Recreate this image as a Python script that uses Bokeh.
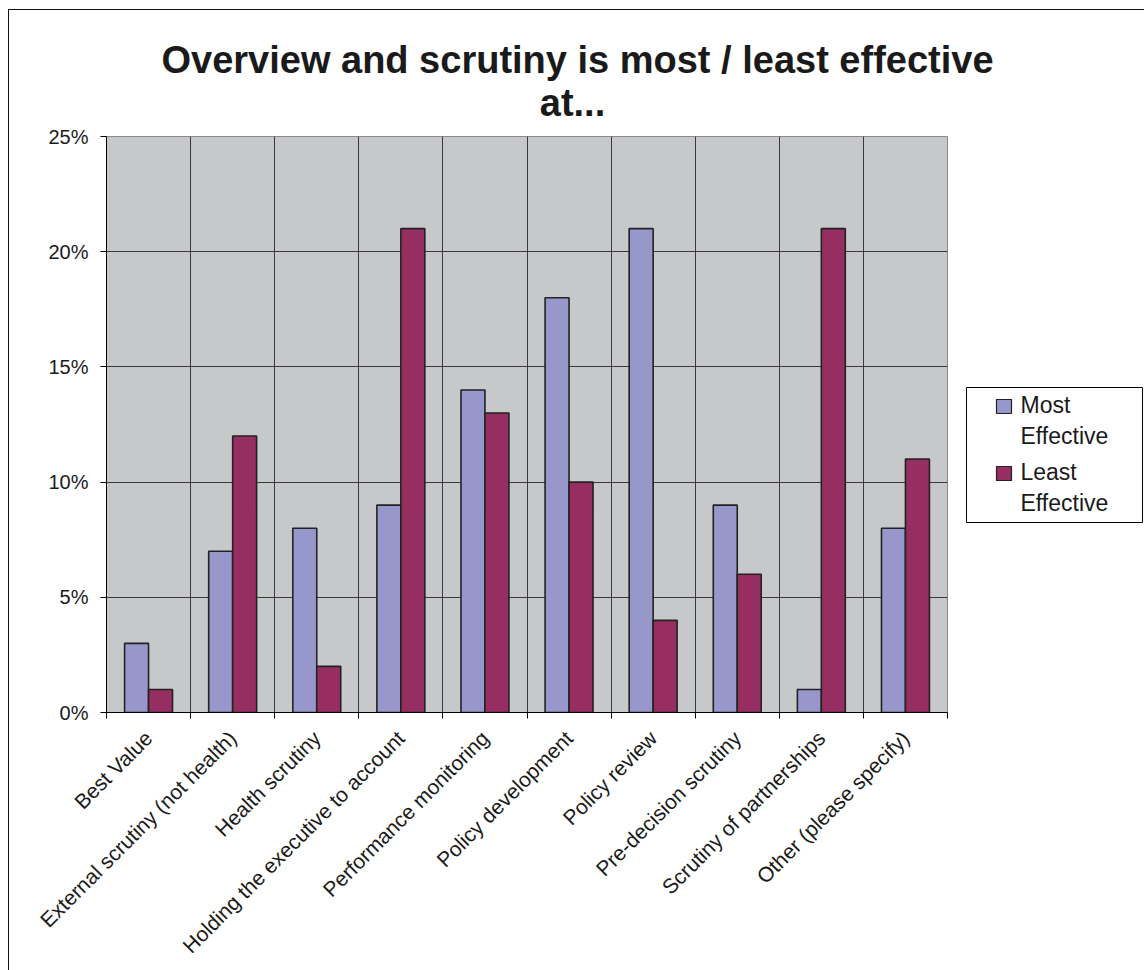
from math import pi

from bokeh.core.properties import value
from bokeh.embed import file_html
from bokeh.layouts import column, row
from bokeh.models import ColumnDataSource, FixedTicker, PrintfTickFormatter, Range1d
from bokeh.plotting import figure
from bokeh.resources import INLINE
from bokeh.transform import dodge

# ---- data -------------------------------------------------------------
categories = [
    "Best Value",
    "External scrutiny (not health)",
    "Health scrutiny",
    "Holding the executive to account",
    "Performance monitoring",
    "Policy development",
    "Policy review",
    "Pre-decision scrutiny",
    "Scrutiny of partnerships",
    "Other (please specify)",
]
most_effective = [3, 7, 8, 9, 14, 18, 21, 9, 1, 8]
least_effective = [1, 12, 2, 21, 13, 10, 4, 6, 21, 11]
y_ticks = [0, 5, 10, 15, 20, 25]
series_names = ["Most\nEffective", "Least\nEffective"]
title_lines = ["Overview and scrutiny is most / least effective", "at..."]

# ---- styling ----------------------------------------------------------
FONT = "Liberation Sans"
MOST_COLOR = "#9797CB"
LEAST_COLOR = "#962E62"
PLOT_BG = "#C7C8CA"
GRID_COLOR = "#3A3A3A"
TEXT_COLOR = "#1A1A1A"
BAR_EDGE = "#222222"
TITLE_SIZE, LEGEND_SIZE = 38, 23

# page geometry (the chart block starts 9px in and 10px down)
TOTAL_W, TITLE_H, BODY_H = 1135, 115, 845
MAIN_W = 939
LEG_W = TOTAL_W - MAIN_W
TOP_PAD, BORDER_BOTTOM = 11, 258
FRAME_H = BODY_H - TOP_PAD - BORDER_BOTTOM
# svg text sits a little low for an alphabetic baseline; lift it back
BASE_LIFT = 0.37


def pixel_panel(width, height, yspan=None, **kw):
    """A bare figure whose data space is plain pixels."""
    f = figure(width=width, height=height,
               x_range=Range1d(0, width), y_range=Range1d(0, yspan or height),
               output_backend="svg", toolbar_location=None,
               x_axis_location=None, y_axis_location=None,
               background_fill_color="white", border_fill_color="white", **kw)
    f.outline_line_color = None
    f.grid.visible = False
    return f


# ---- title strip --------------------------------------------------------
tf = pixel_panel(TOTAL_W, TITLE_H, min_border=0)
title_base = [74, 117]
tf.text(x=[568, 563],
        y=[10 + TITLE_H - (b - BASE_LIFT * TITLE_SIZE) for b in title_base],
        text=title_lines, text_align="center", text_baseline="alphabetic",
        text_font=value(FONT), text_font_style="bold",
        text_font_size=f"{TITLE_SIZE}px", text_color=TEXT_COLOR)

# ---- bar chart ----------------------------------------------------------
n = len(categories)
centers = [i + 0.5 for i in range(n)]
source = ColumnDataSource(dict(x=centers, most=most_effective, least=least_effective))

p = figure(
    width=MAIN_W, height=BODY_H,
    x_range=Range1d(0, n), y_range=Range1d(0, 25),
    output_backend="svg", toolbar_location=None,
    min_border_left=97, min_border_right=1,
    min_border_top=TOP_PAD, min_border_bottom=BORDER_BOTTOM,
    background_fill_color=PLOT_BG, border_fill_color="white",
)
p.outline_line_color = "#8A8A8A"
p.outline_line_width = 1

bar_w = 0.285
p.vbar(x=dodge("x", -bar_w / 2, range=p.x_range), top="most", width=bar_w,
       source=source, fill_color=MOST_COLOR, line_color=BAR_EDGE, line_width=1.6)
p.vbar(x=dodge("x", bar_w / 2, range=p.x_range), top="least", width=bar_w,
       source=source, fill_color=LEAST_COLOR, line_color=BAR_EDGE, line_width=1.6)

boundaries = list(range(n + 1))
p.xaxis.ticker = FixedTicker(ticks=centers, minor_ticks=boundaries)
p.xaxis.major_label_overrides = {c: lab for c, lab in zip(centers, categories)}
p.xaxis.major_label_orientation = pi / 4
p.xaxis.major_tick_in = 0
p.xaxis.major_tick_out = 0
p.xaxis.minor_tick_in = 0
p.xaxis.minor_tick_out = 6
p.xaxis.minor_tick_line_color = "black"
p.xaxis.major_label_standoff = 16
p.xaxis.major_label_text_font_size = "21px"

p.yaxis.ticker = FixedTicker(ticks=y_ticks)
p.yaxis.formatter = PrintfTickFormatter(format="%d%%")
p.yaxis.major_tick_in = 0
p.yaxis.major_tick_out = 6
p.yaxis.minor_tick_line_color = None
p.yaxis.major_label_standoff = 12
p.yaxis.major_label_text_font_size = "20px"

for ax in (p.xaxis, p.yaxis):
    ax.axis_line_color = "black"
    ax.axis_line_width = 1
    ax.major_tick_line_color = "black"
    ax.major_label_text_font = FONT
    ax.major_label_text_color = TEXT_COLOR

p.xgrid.ticker = FixedTicker(ticks=boundaries)
p.ygrid.ticker = FixedTicker(ticks=y_ticks)
for g in (p.xgrid, p.ygrid):
    g.grid_line_color = GRID_COLOR
    g.grid_line_width = 1

# ---- legend panel (shares the chart's vertical frame; y = 712 - page y) --
lg = pixel_panel(LEG_W, BODY_H, yspan=FRAME_H, min_border_left=0, min_border_right=0,
                 min_border_top=TOP_PAD, min_border_bottom=BORDER_BOTTOM)
X0, Y0 = 948, 712
lg.quad(left=966 - X0, right=1142 - X0, top=Y0 - 387, bottom=Y0 - 522,
        fill_color="white", line_color="black", line_width=1)
sq_tops = [399, 466]
lg.quad(left=[996 - X0] * 2, right=[1011 - X0] * 2,
        top=[Y0 - t for t in sq_tops], bottom=[Y0 - t - 14 for t in sq_tops],
        fill_color=[MOST_COLOR, LEAST_COLOR], line_color=BAR_EDGE, line_width=1.2)
legend_lines = [part for name in series_names for part in name.split("\n")]
baselines = [413, 444, 480, 511]
lg.text(x=[1020 - X0] * 4,
        y=[Y0 - (b - BASE_LIFT * LEGEND_SIZE) for b in baselines],
        text=legend_lines, text_baseline="alphabetic", text_align="left",
        text_font=value(FONT), text_font_size=f"{LEGEND_SIZE}px",
        text_color=TEXT_COLOR)

layout = column(tf, row(p, lg))
# thin frame line around the whole chart (left and top edges visible)
layout.styles = {"margin-left": "8px", "margin-top": "9px",
                 "border-left": "1px solid #111", "border-top": "1px solid #111"}

open("out.html", "w").write(file_html(layout, INLINE))
